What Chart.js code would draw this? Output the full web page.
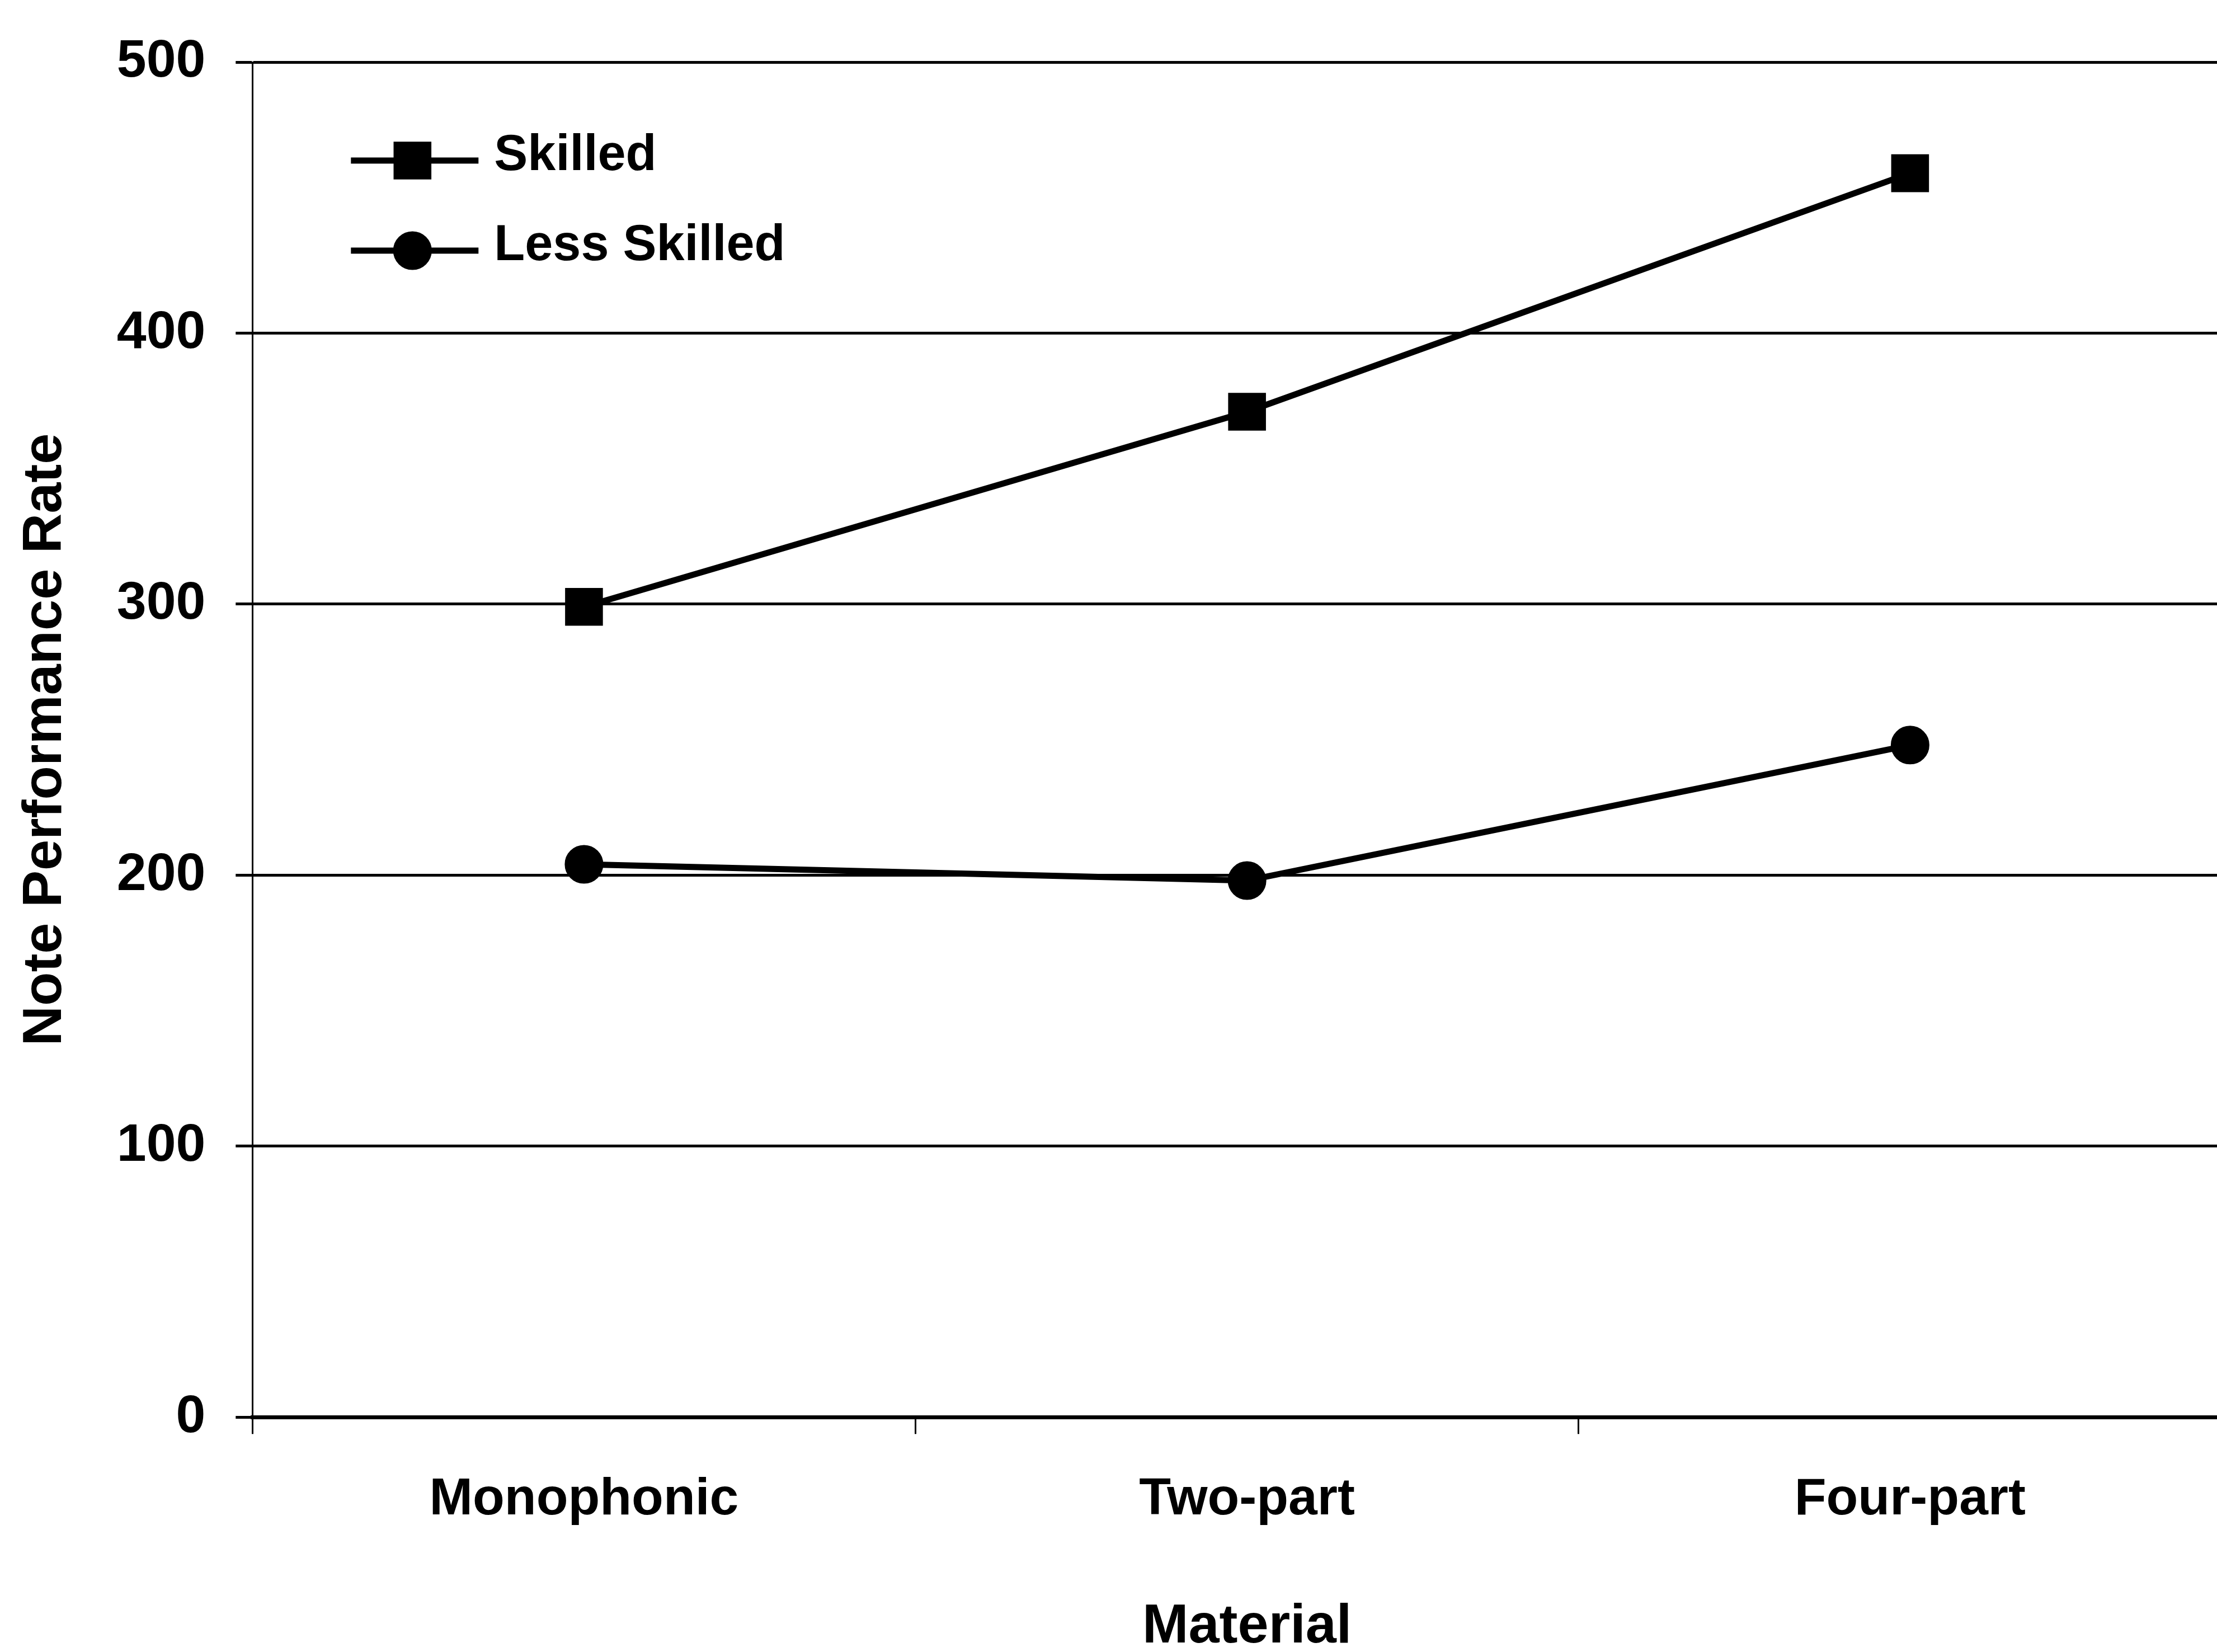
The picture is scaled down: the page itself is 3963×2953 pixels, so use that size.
<!DOCTYPE html>
<html>
<head>
<meta charset="utf-8">
<title>Note Performance Rate by Material</title>
<script src="https://cdn.jsdelivr.net/npm/chart.js@4/dist/chart.umd.min.js"></script>
<style>
  html, body { margin: 0; padding: 0; background: #fff; overflow: hidden; }
  /* the plot runs past the right edge, so the canvas is wider than the frame */
  #frame { width: 3963px; height: 2953px; overflow: hidden; position: relative; }
  #rateChart { display: block; width: 4058px; height: 2953px; }
</style>
</head>
<body>
<div id="frame"><canvas id="rateChart" width="4058" height="2953"></canvas></div>
<script>
const materials = ['Monophonic', 'Two-part', 'Four-part'];
const skilled = [299, 371, 459];
const lessSkilled = [204, 198, 248];
const yTicks = [0, 100, 200, 300, 400, 500];

Chart.defaults.font.family = "'Liberation Sans', Arial, sans-serif";
Chart.defaults.font.weight = 'bold';
Chart.defaults.color = '#000';

// legend sits inside the plot, line + marker + label, like the old spreadsheet charts
const insideLegend = {
  id: 'insideLegend',
  afterDatasetsDraw(chart) {
    const ctx = chart.ctx;
    const area = chart.chartArea;
    const rows = [area.top + 176, area.top + 337];
    ctx.save();
    chart.data.datasets.forEach((ds, i) => {
      const y = rows[i];
      const x0 = area.left + 176;
      const x1 = area.left + 404;
      ctx.strokeStyle = '#000';
      ctx.lineWidth = ds.borderWidth;
      ctx.beginPath();
      ctx.moveTo(x0, y);
      ctx.lineTo(x1, y);
      ctx.stroke();
      ctx.fillStyle = '#000';
      Chart.helpers.drawPoint(ctx, {
        pointStyle: ds.pointStyle,
        radius: ds.pointRadius,
        rotation: 0,
        borderWidth: 1
      }, area.left + 286, y);
      ctx.fill();
      ctx.font = "bold 90px 'Liberation Sans', Arial, sans-serif";
      ctx.textBaseline = 'middle';
      ctx.textAlign = 'left';
      ctx.fillText(ds.label, area.left + 432, y - 8);
    });
    ctx.restore();
  }
};

const ctx = document.getElementById('rateChart').getContext('2d');
new Chart(ctx, {
  type: 'line',
  data: {
    labels: materials,
    datasets: [
      {
        label: 'Skilled',
        data: skilled,
        borderColor: '#000',
        backgroundColor: '#000',
        borderWidth: 11,
        pointStyle: 'rect',
        pointRadius: 40,
        pointBackgroundColor: '#000',
        pointBorderColor: '#000',
        tension: 0
      },
      {
        label: 'Less Skilled',
        data: lessSkilled,
        borderColor: '#000',
        backgroundColor: '#000',
        borderWidth: 11,
        pointStyle: 'circle',
        pointRadius: 29,
        pointBackgroundColor: '#000',
        pointBorderColor: '#000',
        tension: 0
      }
    ]
  },
  options: {
    responsive: false,
    animation: false,
    layout: { padding: { top: 104, left: 22, right: 1, bottom: 0 } },
    plugins: {
      legend: { display: false },
      tooltip: { enabled: false }
    },
    scales: {
      x: {
        offset: true,
        grid: {
          offset: true,
          drawOnChartArea: false,
          drawTicks: true,
          tickLength: 30,
          color: '#000',
          lineWidth: 3
        },
        border: { display: true, color: '#000', width: 7 },
        ticks: {
          padding: 62,
          font: { size: 93, weight: 'bold', lineHeight: 1.2 }
        },
        title: {
          display: true,
          text: 'Material',
          font: { size: 99, weight: 'bold', lineHeight: 0.9 },
          padding: { top: 65, bottom: 0 }
        }
      },
      y: {
        min: 0,
        max: 500,
        afterBuildTicks(scale) {
          scale.ticks = yTicks.map(v => ({ value: v }));
        },
        grid: {
          color: '#000',
          lineWidth: 5,
          tickLength: 30,
          drawTicks: true
        },
        border: { display: true, color: '#000', width: 3 },
        ticks: {
          padding: 54,
          font: { size: 95, weight: 'bold', lineHeight: 1.2 }
        },
        title: {
          display: true,
          text: 'Note Performance Rate',
          font: { size: 99, weight: 'bold', lineHeight: 1.2 },
          padding: { top: 0, bottom: 14 }
        }
      }
    }
  },
  plugins: [insideLegend]
});
</script>
</body>
</html>
